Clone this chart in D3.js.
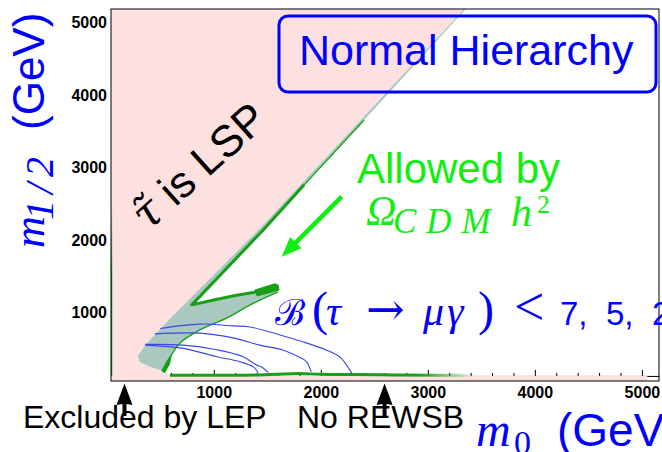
<!DOCTYPE html>
<html><head><meta charset="utf-8">
<script src="https://cdn.jsdelivr.net/npm/d3@7"></script>
<style>
html,body{margin:0;padding:0;background:#fff;}
svg{display:block;}
</style></head><body>
<svg id="chart" width="662" height="452"></svg>
<script>
// ---- parameter plane (m0, m1/2) in GeV ----
const xTicks = [1000, 2000, 3000, 4000, 5000];
const yTicks = [1000, 2000, 3000, 4000, 5000];
const xMinorTicks = d3.range(200, 5200, 200).filter(v => v % 1000 !== 0);

// stau-LSP excluded wedge
const stauLspRegion = [[40,5190],[3340,5190],[1415,2140],[700,1080],[515,805],[360,555],[290,405],[310,320],[405,255],[515,200],[610,130],[40,130]];
// LEP bound on m1/2
const lepStrip = [[40,130],[5050,130],[5050,60],[40,60]];
// coannihilation band allowed by relic density
const coannBand = [[3340,5190],[1415,2140],[700,1080],[515,805],[360,555],[290,405],[310,320],[405,255],[515,200],
  [575,350],[685,585],[870,765],[1125,930],[1340,1110],[1600,1290],
  [1600,1370],[1290,1245],[1010,1175],[795,1110],[1460,2140],[3355,5190]];
// relic density contours
const omegaThin = [[2405,3660],[1845,2765]];
const omegaArm = [[1845,2765],[1460,2140],[795,1110],[1010,1180],[1200,1240],[1400,1290]];
const omegaTip = [[1385,1315],[1570,1400],[1600,1385],[1610,1315],[1405,1232]];
const omegaLower = [[515,200],[575,350],[685,585],[870,765],[1125,930],[1340,1110],[1600,1290]];
const omegaSpike = [[516,184],[554,322],[610,432],[591,294],[545,170]];
const omegaBottom = [[590,140],[1000,138],[1400,142],[1800,165],[2000,152],[2300,148],[2700,143],[3100,140],[3500,140]];
const omegaLeft = [[40,2560],[40,130]];
// B(tau -> mu gamma) contours: 7, 5, 2
const brLines = [
  [[500,785],[870,845],[1180,820],[1340,805],[1620,695],[1835,600],[2055,485],[2180,390],[2290,165]],
  [[450,710],[870,720],[1180,655],[1430,555],[1650,485],[1820,375],[1870,320],[1910,185]],
  [[360,565],[715,555],[1030,490],[1275,395],[1400,280],[1450,250],[1510,175]],
  [[360,555],[715,510],[1030,395],[1245,325],[1370,255],[1415,175]]
];
// m0 positions of the LEP and REWSB markers
const boundaryMarkers = [166, 2596];

const PINK = "#fde0e0", BAND = "#a9c8bf", DKGREEN = "#16a016", GREEN = "#11ee11", BLUE = "#0000ff", LBLUE = "#3a48e8";
const SANS = "'Liberation Sans', Arial, sans-serif", SERIF = "'Liberation Serif', 'DejaVu Serif', serif";
const DJS = "'DejaVu Serif', serif";

const svg = d3.select("#chart");
const P = {left:111, right:659, top:9, bottom:381};
const x = d3.scaleLinear().domain([40, 5160]).range([P.left, P.right]);
const y = d3.scaleLinear().domain([60, 5190]).range([P.bottom, P.top]);

const defs = svg.append("defs");
defs.append("clipPath").attr("id","plotclip").append("rect")
  .attr("x",P.left).attr("y",P.top).attr("width",P.right-P.left).attr("height",P.bottom-P.top);
const gBot = defs.append("linearGradient").attr("id","fadeBottom").attr("gradientUnits","userSpaceOnUse")
  .attr("x1",x(2900)).attr("x2",x(3450)).attr("y1",0).attr("y2",0);
gBot.append("stop").attr("offset",0).attr("stop-color",DKGREEN).attr("stop-opacity",1);
gBot.append("stop").attr("offset",1).attr("stop-color",DKGREEN).attr("stop-opacity",0);
const gLeft = defs.append("linearGradient").attr("id","fadeLeft").attr("gradientUnits","userSpaceOnUse")
  .attr("x1",0).attr("x2",0).attr("y1",y(2560)).attr("y2",y(1500));
gLeft.append("stop").attr("offset",0).attr("stop-color",DKGREEN).attr("stop-opacity",0);
gLeft.append("stop").attr("offset",1).attr("stop-color",DKGREEN).attr("stop-opacity",1);

svg.append("rect").attr("width",662).attr("height",452).attr("fill","#fff");

const line = d3.line().x(d => x(d[0])).y(d => y(d[1]));
const smooth = d3.line().x(d => x(d[0])).y(d => y(d[1])).curve(d3.curveCatmullRom.alpha(0.5));
const area = d3.line().x(d => x(d[0])).y(d => y(d[1])).curve(d3.curveLinearClosed);

// x ticks along the LEP bound
const axisY = y(130);
svg.append("g").attr("transform",`translate(0,${axisY})`)
  .call(d3.axisTop(x).tickValues(xMinorTicks).tickSize(3).tickSizeOuter(0).tickFormat(""))
  .call(g => g.selectAll("line,path").attr("stroke","#000"));
svg.append("g").attr("transform",`translate(0,${axisY})`)
  .call(d3.axisTop(x).tickValues(xTicks).tickSize(6).tickSizeOuter(0).tickFormat(""))
  .call(g => g.select(".domain").remove())
  .call(g => g.selectAll("line").attr("stroke","#000"));

const plot = svg.append("g").attr("clip-path","url(#plotclip)");
plot.append("path").attr("d",area(lepStrip)).attr("fill",PINK);
plot.append("path").attr("d",area(stauLspRegion)).attr("fill",PINK);
plot.append("path").attr("d",area(coannBand)).attr("fill",BAND);

// relic density contours
plot.append("path").attr("d",line(omegaThin)).attr("fill","none").attr("stroke",DKGREEN).attr("stroke-width",1.3);
plot.append("path").attr("d",line(omegaArm)).attr("fill","none").attr("stroke",DKGREEN).attr("stroke-width",3).attr("stroke-linejoin","round");
plot.append("path").attr("d",area(omegaTip)).attr("fill",DKGREEN).attr("stroke",DKGREEN).attr("stroke-width",1);
plot.append("path").attr("d",smooth(omegaLower)).attr("fill","none").attr("stroke",DKGREEN).attr("stroke-width",1.3);
plot.append("path").attr("d",area(omegaSpike)).attr("fill",DKGREEN);
plot.append("path").attr("d",smooth(omegaBottom)).attr("fill","none").attr("stroke","url(#fadeBottom)").attr("stroke-width",3);
plot.append("path").attr("d",line(omegaLeft)).attr("fill","none").attr("stroke","url(#fadeLeft)").attr("stroke-width",2.5);

// LFV contours
plot.selectAll("path.br").data(brLines).join("path").attr("class","br")
  .attr("d",smooth).attr("fill","none").attr("stroke",LBLUE).attr("stroke-width",1.1);

// frame
svg.append("rect").attr("x",P.left).attr("y",P.top).attr("width",P.right-P.left).attr("height",P.bottom-P.top)
  .attr("fill","none").attr("stroke","#000").attr("stroke-width",1);

// tick labels
svg.append("g").attr("transform","translate(0,387)")
  .call(d3.axisBottom(x).tickValues(xTicks).tickSize(0).tickPadding(0).tickFormat(d3.format("d")))
  .call(g => g.select(".domain").remove())
  .call(g => g.selectAll("text").attr("font-family",SANS).attr("font-weight","bold").attr("font-size",16).attr("fill","#000"));
svg.append("g").attr("transform",`translate(${P.left},0)`)
  .call(d3.axisLeft(y).tickValues(yTicks).tickSize(0).tickPadding(4).tickFormat(d3.format("d")))
  .call(g => g.select(".domain").remove())
  .call(g => g.selectAll("text").attr("font-family",SANS).attr("font-weight","bold").attr("font-size",16).attr("fill","#000"));

// title box
svg.append("rect").attr("x",279).attr("y",16).attr("width",377).attr("height",76).attr("rx",9)
  .attr("fill","none").attr("stroke",BLUE).attr("stroke-width",3);
svg.append("text").attr("x",299).attr("y",65).attr("font-family",SANS).attr("font-size",43).attr("fill",BLUE).text("Normal Hierarchy");

// stau LSP label
const lsp = svg.append("text").attr("transform","translate(148,232) rotate(-42)").attr("font-size",44).attr("fill","#000");
lsp.append("tspan").attr("font-family",DJS).attr("font-style","italic").text("\u03c4\u0303");
lsp.append("tspan").attr("font-family",SANS).text(" is LSP");

// relic density annotation
svg.append("text").attr("x",357).attr("y",183).attr("font-family",SANS).attr("font-size",42).attr("fill",GREEN).text("Allowed by");
svg.append("text").attr("x",366).attr("y",225).attr("font-family",SERIF).attr("font-style","italic").attr("font-size",42).attr("fill",GREEN).text("\u03a9");
svg.append("text").attr("x",393).attr("y",233).attr("font-family",SERIF).attr("font-style","italic").attr("font-size",35).attr("letter-spacing",10).attr("fill",GREEN).text("CDM");
svg.append("text").attr("x",511).attr("y",226).attr("font-family",SERIF).attr("font-style","italic").attr("font-size",42).attr("fill",GREEN).text("h");
svg.append("text").attr("x",537).attr("y",213).attr("font-family",SERIF).attr("font-size",26).attr("fill",GREEN).text("2");
svg.append("line").attr("x1",341.7).attr("y1",196.7).attr("x2",292).attr("y2",246.4)
  .attr("stroke",GREEN).attr("stroke-width",4.5);
svg.append("path").attr("d","M281.7,256.7 L290.1,236.9 L301.5,248.3 Z").attr("fill",GREEN);

// branching ratio annotation
const brPieces = [
  {t:"\u212c", x:275, f:DJS, s:36, it:false},
  {t:"(", x:312, f:SERIF, s:48, it:false},
  {t:"\u03c4", x:326, f:SERIF, s:42, it:true},
  {t:"\u2192", x:366, f:DJS, s:46, it:false},
  {t:"\u03bc", x:423, f:SERIF, s:42, it:true},
  {t:"\u03b3", x:447, f:SERIF, s:42, it:true},
  {t:")", x:478, f:SERIF, s:48, it:false},
  {t:"<", x:514, f:SERIF, s:54, it:false},
  {t:"7,", x:560, f:SANS, s:33, it:false},
  {t:"5,", x:606, f:SANS, s:33, it:false},
  {t:"2", x:652, f:SANS, s:33, it:false}
];
svg.append("g").selectAll("text").data(brPieces).join("text")
  .attr("x",d => d.x).attr("y",325).attr("font-family",d => d.f).attr("font-size",d => d.s)
  .attr("font-style",d => d.it ? "italic" : "normal").attr("fill",BLUE).text(d => d.t);

// axis titles
const yt = svg.append("g").attr("transform","translate(44,248) rotate(-90)").attr("fill",BLUE);
yt.append("text").attr("x",0).attr("y",0).attr("font-family",SERIF).attr("font-style","italic").attr("font-size",44).text("m");
yt.append("text").attr("x",28).attr("y",9).attr("font-family",SERIF).attr("font-style","italic").attr("font-size",40).attr("letter-spacing",6).text("1/2");
yt.append("text").attr("x",118).attr("y",0).attr("font-family",SANS).attr("font-size",44).text("(GeV)");

svg.append("text").attr("x",476).attr("y",446).attr("font-family",SERIF).attr("font-style","italic").attr("font-size",48).attr("fill",BLUE).text("m");
svg.append("text").attr("x",514).attr("y",454).attr("font-family",SERIF).attr("font-size",34).attr("fill",BLUE).text("0");
svg.append("text").attr("x",557).attr("y",446).attr("font-family",SANS).attr("font-size",46).attr("fill",BLUE).text("(GeV");

// boundary markers
svg.append("g").selectAll("path").data(boundaryMarkers).join("path")
  .attr("d", d => { const c = x(d); return `M${c},383.5 L${c+8},405 L${c+2},404 L${c+2},416 L${c-2},416 L${c-2},404 L${c-8},405 Z`; })
  .attr("fill","#000");
svg.append("text").attr("x",23).attr("y",428).attr("font-family",SANS).attr("font-size",32).attr("fill","#000").text("Excluded by LEP");
svg.append("text").attr("x",297).attr("y",428).attr("font-family",SANS).attr("font-size",32).attr("fill","#000").text("No REWSB");
</script>
</body></html>
